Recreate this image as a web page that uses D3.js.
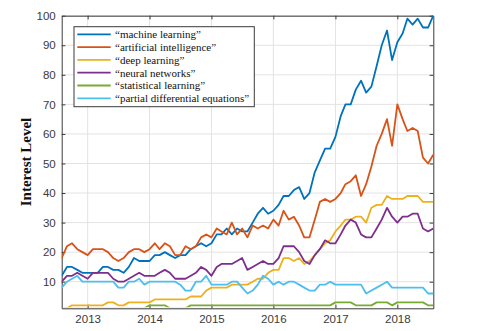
<!DOCTYPE html>
<html><head><meta charset="utf-8">
<script src="https://cdn.jsdelivr.net/npm/d3@7"></script>
<style>body{margin:0;background:#fff}svg{display:block}</style>
</head><body>
<script>
const startMonth = "2012-08";
const seriesNames = ["\u201cmachine learning\u201d","\u201cartificial intelligence\u201d","\u201cdeep learning\u201d","\u201cneural networks\u201d","\u201cstatistical learning\u201d","\u201cpartial differential equations\u201d"];
const colors = ["#0072BD","#D95319","#EDB120","#7E2F8E","#77AC30","#4DBEEE"];
const machineLearning = [12,15,15,14,13,13,13,13,15,15,14,14,13,15,18,17,17,17,19,19,20,19,18,19,19,21,22,23,22,23,26,26,28,26,28,27,27,30,33,35,33,34,36,39,39,41,42,38,40,47,51,55,55,59,66,70,70,75,78,74,76,83,90,95,85,91,94,99,97,99,96,96,100];
const artificialIntelligence = [18,22,23,21,20,19,21,21,21,20,18,17,18,20,21,21,20,21,23,21,23,22,19,19,22,21,22,25,26,25,28,27,26,30,26,28,25,29,28,29,28,31,29,34,31,32,29,25,25,31,37,38,37,38,40,43,44,46,39,43,49,56,60,65,56,70,65,61,62,61,52,50,53];
const deepLearning = [1,1,2,2,2,2,2,2,2,3,3,2,2,3,3,3,3,3,4,4,4,4,4,4,4,5,5,5,7,8,8,8,8,9,9,9,9,10,11,11,13,14,14,18,18,17,18,16,17,19,21,23,24,27,29,31,31,32,32,30,35,36,36,39,38,38,38,39,39,39,37,37,37];
const neuralNetworks = [10,12,12,13,12,11,13,13,13,13,11,10,10,11,12,13,12,12,12,13,14,13,11,11,11,12,13,15,14,12,15,16,16,16,17,18,14,15,16,17,16,16,18,22,22,22,20,17,16,19,21,24,23,23,26,29,31,30,26,25,25,28,31,35,32,30,32,32,33,33,28,27,28];
const statisticalLearning = [1,1,1,1,1,1,1,1,1,1,1,1,1,1,1,1,1,2,2,2,2,1,1,1,1,2,2,2,2,2,2,2,2,2,2,2,2,2,2,2,2,2,2,2,2,2,2,2,2,2,2,2,2,3,3,3,3,2,2,2,2,3,3,3,2,3,3,3,3,3,3,2,2];
const pde = [8,10,11,12,10,10,10,10,10,10,10,8,8,10,10,11,9,10,10,10,10,10,10,9,7,7,10,10,12,9,9,9,9,10,10,8,6,7,9,12,11,9,10,9,10,10,9,8,7,7,9,9,10,9,9,9,9,9,9,6,7,8,9,10,8,8,8,8,8,8,8,6,6];
const yTicks = [10,20,30,40,50,60,70,80,90,100];
const xTickYears = [2013,2014,2015,2016,2017,2018];
const yLabel = "Interest Level";

const allSeries = [machineLearning, artificialIntelligence, deepLearning, neuralNetworks, statisticalLearning, pde];

const W = 479, H = 331;
const m = {l: 61.7, r: 479 - 433.3, t: 15.7, b: 331 - 308.3};
const svg = d3.select("body").append("svg").attr("width", W).attr("height", H);

const start = d3.timeParse("%Y-%m")(startMonth);
const dates = machineLearning.map((_, i) => d3.timeMonth.offset(start, i));
const x = d3.scaleTime().domain([dates[0], dates[dates.length - 1]]).range([m.l, W - m.r]);
const y = d3.scaleLinear().domain([1, 100]).range([H - m.b, m.t]);
const xTicks = xTickYears.map(yr => new Date(yr, 0, 1));

// grid
const g = svg.append("g");
g.selectAll(".gx").data(xTicks).join("line")
  .attr("x1", d => x(d)).attr("x2", d => x(d)).attr("y1", m.t).attr("y2", H - m.b)
  .attr("stroke", "#e3e3e3").attr("stroke-width", 1);
g.selectAll(".gy").data(yTicks).join("line")
  .attr("x1", m.l).attr("x2", W - m.r).attr("y1", d => y(d)).attr("y2", d => y(d))
  .attr("stroke", "#e3e3e3").attr("stroke-width", 1);

// axes
const tl = 3.7;
const axL = d3.axisLeft(y).tickValues(yTicks).tickSizeInner(-tl).tickSizeOuter(0).tickPadding(6).tickFormat(d3.format("d"));
const axR = d3.axisRight(y).tickValues(yTicks).tickSizeInner(-tl).tickSizeOuter(0).tickFormat("");
const axB = d3.axisBottom(x).tickValues(xTicks).tickSizeInner(-tl).tickSizeOuter(0).tickPadding(7).tickFormat(d3.timeFormat("%Y"));
const axT = d3.axisTop(x).tickValues(xTicks).tickSizeInner(-tl).tickSizeOuter(0).tickFormat("");
function style(sel) {
  sel.selectAll("path.domain").attr("stroke", "#3a3a3a").attr("stroke-width", 1);
  sel.selectAll(".tick line").attr("stroke", "#3a3a3a");
  sel.selectAll(".tick text").attr("fill", "#3a3a3a").style("font-family", "'Liberation Sans', Arial, sans-serif").style("font-size", "11.5px");
}
svg.append("g").attr("transform", `translate(${m.l},0)`).call(axL).call(style);
svg.append("g").attr("transform", `translate(${W - m.r},0)`).call(axR).call(style);
svg.append("g").attr("transform", `translate(0,${H - m.b})`).call(axB).call(style);
svg.append("g").attr("transform", `translate(0,${m.t})`).call(axT).call(style);

// lines
const clip = svg.append("clipPath").attr("id", "c").append("rect")
  .attr("x", m.l).attr("y", m.t - 2).attr("width", W - m.r - m.l).attr("height", H - m.b - m.t + 1);
const line = d3.line().x((d, i) => x(dates[i])).y(d => y(d));
svg.append("g").attr("clip-path", "url(#c)").selectAll("path").data(allSeries).join("path")
  .attr("d", d => line(d)).attr("fill", "none")
  .attr("stroke", (d, i) => colors[i]).attr("stroke-width", 1.8).attr("stroke-linejoin", "round");

// y label
svg.append("text").attr("transform", `translate(31,${(m.t + H - m.b) / 2}) rotate(-90)`)
  .attr("text-anchor", "middle").attr("fill", "#111")
  .style("font-family", "'Liberation Serif', 'Times New Roman', serif").style("font-weight", "bold").style("font-size", "15px")
  .text(yLabel);

// legend
const lg = svg.append("g");
lg.append("rect").attr("x", 74).attr("y", 26.7).attr("width", 180.3).attr("height", 80)
  .attr("fill", "#fff").attr("stroke", "#3a3a3a").attr("stroke-width", 1);
const rowY = d3.scaleLinear().domain([0, 5]).range([34.3, 98.3]);
seriesNames.forEach((n, i) => {
  lg.append("line").attr("x1", 77.3).attr("x2", 110.7).attr("y1", rowY(i)).attr("y2", rowY(i))
    .attr("stroke", colors[i]).attr("stroke-width", 1.8);
  lg.append("text").attr("x", 115).attr("y", rowY(i)).attr("dy", "0.35em").attr("fill", "#111")
    .style("font-family", "'Liberation Serif', 'Times New Roman', serif").style("font-size", "11px")
    .text(n);
});
</script>
</body></html>
